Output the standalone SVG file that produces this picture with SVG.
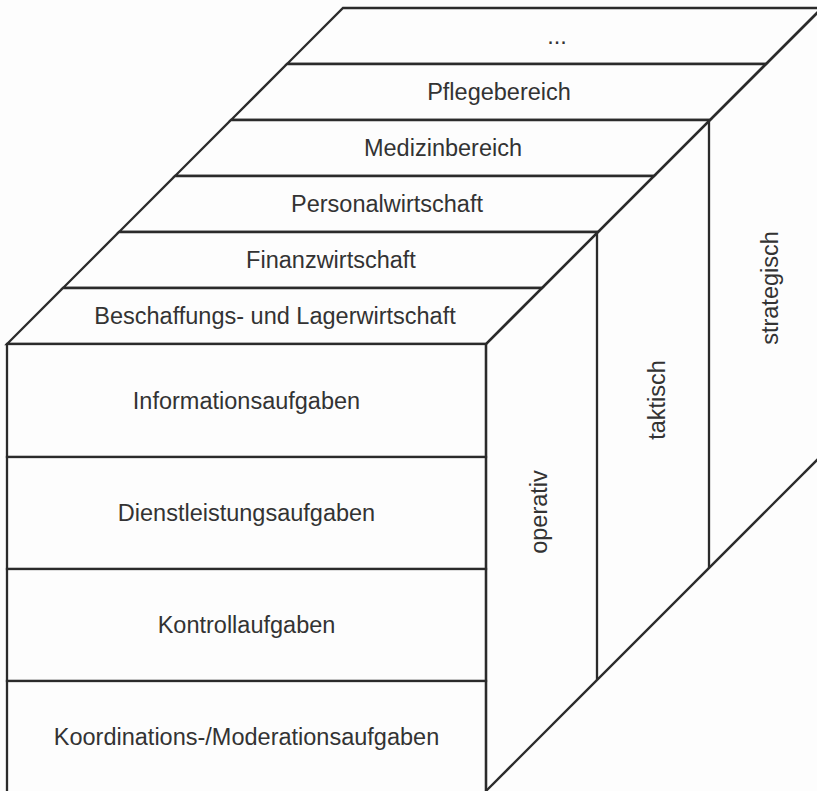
<svg xmlns="http://www.w3.org/2000/svg" width="817" height="791" viewBox="0 0 817 791">
<style>
.ln{fill:none;stroke:#2b2b2b;stroke-width:2.3;stroke-linejoin:miter}
.face{fill:#fdfdfd;stroke:#2b2b2b;stroke-width:2.3}
.t{font-family:"Liberation Sans",Arial,sans-serif;font-size:23.5px;fill:#333;text-anchor:middle}
</style>
<rect width="817" height="791" fill="#fdfdfd"/>
<g id="top-face">
  <g id="layer-dots"><polygon class="face" points="343,8 822,8 766,64 287,64"/><text class="t" x="557" y="44">...</text></g>
  <g id="layer-pflege"><polygon class="face" points="287,64 766,64 710,120 231,120"/><text class="t" x="499" y="100">Pflegebereich</text></g>
  <g id="layer-medizin"><polygon class="face" points="231,120 710,120 654,176 175,176"/><text class="t" x="443" y="156">Medizinbereich</text></g>
  <g id="layer-personal"><polygon class="face" points="175,176 654,176 598,232 119,232"/><text class="t" x="387" y="212">Personalwirtschaft</text></g>
  <g id="layer-finanz"><polygon class="face" points="119,232 598,232 542,288 63,288"/><text class="t" x="331" y="268">Finanzwirtschaft</text></g>
  <g id="layer-beschaffung"><polygon class="face" points="63,288 542,288 486,344 7,344"/><text class="t" x="275" y="324">Beschaffungs- und Lagerwirtschaft</text></g>
</g>
<g id="front-face">
  <g id="task-information"><rect class="face" x="7" y="344" width="479" height="113"/><text class="t" x="246.5" y="409">Informationsaufgaben</text></g>
  <g id="task-dienstleistung"><rect class="face" x="7" y="457" width="479" height="112"/><text class="t" x="246.5" y="521">Dienstleistungsaufgaben</text></g>
  <g id="task-kontrolle"><rect class="face" x="7" y="569" width="479" height="112"/><text class="t" x="246.5" y="633">Kontrollaufgaben</text></g>
  <g id="task-koordination"><rect class="face" x="7" y="681" width="479" height="115"/><text class="t" x="246.5" y="745">Koordinations-/Moderationsaufgaben</text></g>
</g>
<g id="side-face">
  <g id="level-operativ"><text class="t" transform="translate(547,512) rotate(-90)">operativ</text></g>
  <g id="level-taktisch"><text class="t" transform="translate(665,400) rotate(-90)">taktisch</text></g>
  <g id="level-strategisch"><text class="t" transform="translate(778,288) rotate(-90)">strategisch</text></g>
</g>
<g id="connectors">
  <line class="ln" x1="486" y1="344" x2="486" y2="793"/>
  <line class="ln" x1="486" y1="791" x2="822" y2="455"/>
  <line class="ln" x1="486" y1="344" x2="822" y2="8"/>
  <line class="ln" x1="597" y1="233" x2="597" y2="680"/>
  <line class="ln" x1="709" y1="121" x2="709" y2="568"/>
</g>
</svg>
